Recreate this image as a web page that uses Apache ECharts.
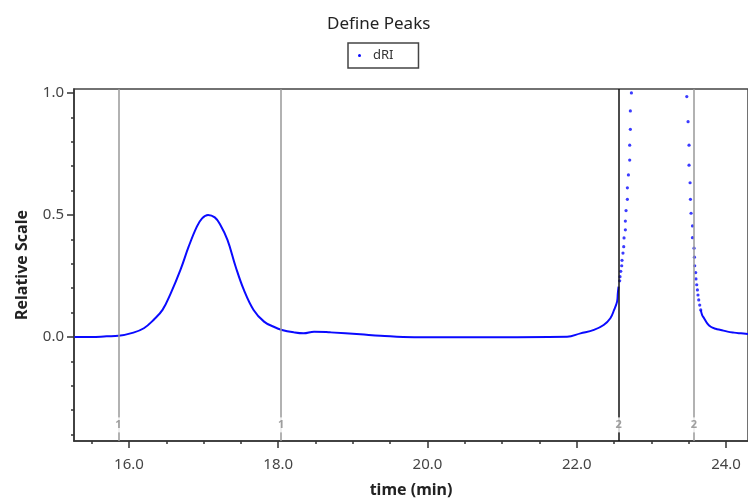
<!DOCTYPE html>
<html><head><meta charset="utf-8">
<script src="https://cdn.jsdelivr.net/npm/echarts@6/dist/echarts.min.js"></script>
<style>html,body{margin:0;padding:0;background:#fff}#c{width:748px;height:503px}</style>
</head><body><div id="c"></div>
<script>
// ---- data ----
const chartTitle = 'Define Peaks';
const seriesName = 'dRI';
const xAxisName = 'time (min)';
const yAxisName = 'Relative Scale';

// dense (continuous-looking) part of the trace
const baseTime  = [15.27,15.50,15.70,15.86,16.06,16.20,16.33,16.45,16.56,16.69,16.80,16.91,16.98,17.06,17.15,17.22,17.32,17.43,17.54,17.67,17.81,17.94,18.05,18.21,18.34,18.48,18.70,19.10,19.37,19.82,20.71,21.87,22.05,22.23,22.36,22.45,22.50,22.54,22.55,22.56];
const baseValue = [0.000,0.000,0.003,0.005,0.018,0.036,0.070,0.111,0.179,0.275,0.370,0.452,0.486,0.500,0.490,0.462,0.398,0.288,0.193,0.111,0.063,0.042,0.029,0.019,0.015,0.022,0.019,0.011,0.005,-0.001,-0.001,0.001,0.015,0.029,0.049,0.077,0.111,0.145,0.179,0.206];

// sparse points on the steep rising flank
const riseTime  = [22.575,22.579,22.589,22.602,22.606,22.619,22.629,22.633,22.651,22.651,22.660,22.678,22.678,22.692,22.709,22.709,22.718,22.718,22.732];
const riseValue = [0.230,0.247,0.269,0.292,0.314,0.344,0.370,0.406,0.439,0.475,0.518,0.564,0.611,0.664,0.725,0.786,0.851,0.926,1.000];

// sparse points on the steep falling flank
const fallTime  = [23.474,23.491,23.504,23.504,23.518,23.523,23.531,23.550,23.550,23.571,23.576,23.580,23.593,23.597,23.607,23.616,23.624,23.634,23.647,23.661];
const fallValue = [0.985,0.882,0.786,0.704,0.632,0.564,0.507,0.455,0.407,0.364,0.327,0.292,0.264,0.238,0.214,0.193,0.172,0.152,0.131,0.111];

// dense tail after the second peak
const tailTime  = [23.661,23.68,23.705,23.75,23.795,23.86,23.929,24.02,24.107,24.20,24.30];
const tailValue = [0.111,0.090,0.077,0.055,0.042,0.034,0.029,0.022,0.018,0.015,0.012];

// peak boundary markers
const markerTime  = [15.86, 18.04, 22.56, 23.57];
const markerLabel = ['1', '1', '2', '2'];
const markerDark  = [false, false, true, false];

// ticks
const xMajorTicks = [16, 18, 20, 22, 24];
const xMinorTicks = [15.5, 16.5, 17, 17.5, 18.5, 19, 19.5, 20.5, 21, 21.5, 22.5, 23, 23.5];
const yMajorTicks = [0, 0.5, 1.0];
const yMinorTicks = [-0.4, -0.3, -0.2, -0.1, 0.1, 0.2, 0.3, 0.4, 0.6, 0.7, 0.8, 0.9];

const X_MIN = 15.264, X_MAX = 24.294;
const Y_MIN = -0.426, Y_MAX = 1.016;
const MARKER_LABEL_LEVEL = -0.36;

// ---- chart ----
const zip = (a, b) => a.map((v, i) => [v, b[i]]);
const BLUE = '#0a0aff';
const FONT = 'Noto Sans';

const chart = echarts.init(document.getElementById('c'), null, {renderer: 'canvas'});

const majorX = {
  type: 'value', min: X_MIN, max: X_MAX, position: 'bottom',
  axisLine: {show: true, onZero: false, lineStyle: {color: '#333', width: 1.5}},
  axisTick: {show: true, customValues: xMajorTicks, length: 7, lineStyle: {color: '#333', width: 1.5}},
  axisLabel: {customValues: xMajorTicks, formatter: v => v.toFixed(1), margin: 16, fontSize: 15, color: '#444', fontFamily: FONT},
  splitLine: {show: false},
  name: xAxisName, nameLocation: 'middle', nameGap: 41,
  nameTextStyle: {fontSize: 16, fontWeight: 'bold', color: '#222', fontFamily: FONT}
};
const minorX = {
  type: 'value', min: X_MIN, max: X_MAX, position: 'bottom', offset: 0,
  axisLine: {show: false, onZero: false},
  axisTick: {show: true, customValues: xMinorTicks, length: 3, lineStyle: {color: '#333', width: 1.5}},
  axisLabel: {show: false}, splitLine: {show: false}
};
const majorY = {
  type: 'value', min: Y_MIN, max: Y_MAX, position: 'left',
  axisLine: {show: true, onZero: false, lineStyle: {color: '#333', width: 1.5}},
  axisTick: {show: true, customValues: yMajorTicks, length: 7, lineStyle: {color: '#333', width: 1.5}},
  axisLabel: {customValues: yMajorTicks, formatter: v => v.toFixed(1), margin: 10, fontSize: 15, color: '#444', fontFamily: FONT},
  splitLine: {show: false},
  name: yAxisName, nameLocation: 'middle', nameGap: 44,
  nameTextStyle: {fontSize: 16, fontWeight: 'bold', color: '#222', fontFamily: FONT}
};
const minorY = {
  type: 'value', min: Y_MIN, max: Y_MAX, position: 'left', offset: 0,
  axisLine: {show: false, onZero: false},
  axisTick: {show: true, customValues: yMinorTicks, length: 3, lineStyle: {color: '#333', width: 1.5}},
  axisLabel: {show: false}, splitLine: {show: false}
};

chart.setOption({
  animation: false,
  backgroundColor: '#fff',
  title: {
    text: chartTitle, left: 322, top: 11,
    textStyle: {fontSize: 17, fontWeight: 'normal', color: '#222', fontFamily: FONT}
  },
  legend: {
    data: [{name: seriesName, icon: 'circle'}],
    left: 348, top: 43,
    padding: [6, 25, 6, 10],
    itemWidth: 3, itemHeight: 3,
    borderColor: '#444', borderWidth: 1.5,
    textStyle: {fontSize: 13, color: '#333', fontFamily: FONT, padding: [0, 0, 0, 7]}
  },
  grid: {left: 74, right: -1, top: 89, bottom: 62, show: true, borderColor: '#444', borderWidth: 1.5, containLabel: false},
  xAxis: [majorX, minorX],
  yAxis: [majorY, minorY],
  series: [
    {
      name: seriesName, type: 'line', data: zip(baseTime, baseValue),
      showSymbol: false, smooth: 0.4,
      lineStyle: {color: BLUE, width: 2}, itemStyle: {color: BLUE}, z: 3,
      markLine: {
        silent: true, symbol: ['none', 'none'], label: {show: false},
        data: markerTime.map((t, i) => ({xAxis: t, lineStyle: {color: markerDark[i] ? '#111' : '#999', width: 1.5, type: 'solid'}}))
      }
    },
    {
      name: seriesName, type: 'scatter', data: zip(riseTime, riseValue).concat(zip(fallTime, fallValue)),
      symbolSize: 3.2, itemStyle: {color: BLUE}, z: 4
    },
    {
      name: seriesName, type: 'line', data: zip(tailTime, tailValue),
      showSymbol: false, smooth: 0.4,
      lineStyle: {color: BLUE, width: 2}, itemStyle: {color: BLUE}, z: 3
    },
    {
      name: 'markers', type: 'scatter',
      data: markerTime.map((t, i) => [t, MARKER_LABEL_LEVEL, markerLabel[i]]),
      symbolSize: 1, itemStyle: {color: 'rgba(0,0,0,0)'}, z: 10,
      label: {
        show: true, position: 'inside', formatter: p => p.data[2],
        backgroundColor: '#fff', padding: [2, 1], color: '#888',
        fontSize: 11, fontWeight: 'bold', fontFamily: FONT
      }
    }
  ]
});
</script>
</body></html>
